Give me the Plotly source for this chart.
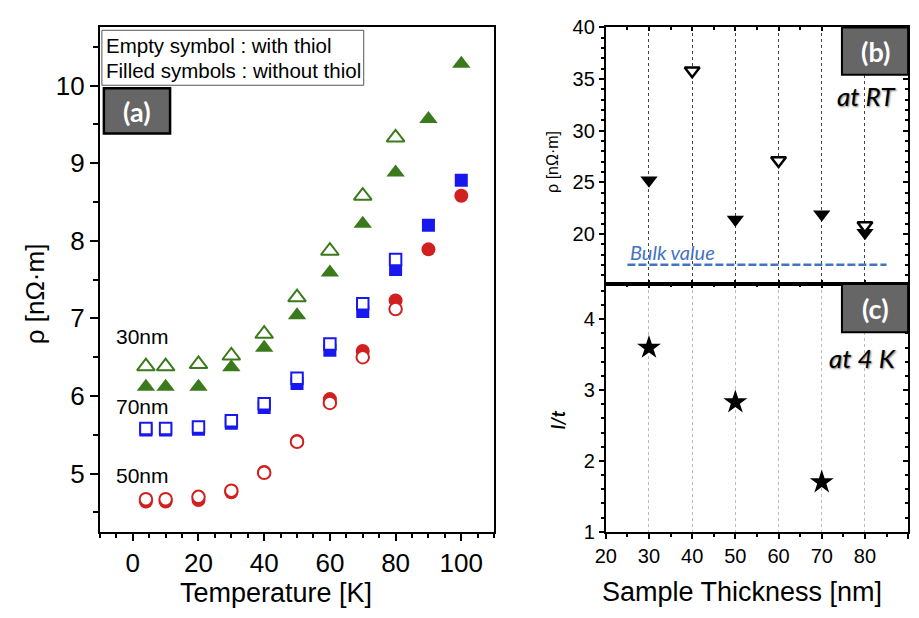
import plotly.graph_objects as go

# ---------------- data ----------------
# (a) resistivity vs temperature
temperature = [4, 10, 20, 30, 40, 50, 60, 70, 80, 90, 100]
temperature_thiol = [4, 10, 20, 30, 40, 50, 60, 70, 80]

rho_30nm_bare = [6.12, 6.12, 6.12, 6.37, 6.62, 7.04, 7.59, 8.22, 8.88, 9.57, 10.28]
rho_30nm_thiol = [6.38, 6.38, 6.41, 6.52, 6.80, 7.27, 7.87, 8.58, 9.33]
rho_70nm_bare = [5.56, 5.56, 5.57, 5.65, 5.85, 6.16, 6.59, 7.09, 7.63, 8.20, 8.78]
rho_70nm_thiol = [5.58, 5.58, 5.60, 5.68, 5.90, 6.23, 6.67, 7.19, 7.76]
rho_50nm_bare = [4.64, 4.64, 4.66, 4.76, 5.02, 5.42, 5.96, 6.58, 7.23, 7.89, 8.58]
rho_50nm_thiol = [4.67, 4.67, 4.70, 4.78, 5.01, 5.41, 5.91, 6.50, 7.12]

# (b) room-temperature resistivity vs thickness
thickness_bare = [30, 50, 70, 80]
rho_rt_bare = [25.2, 21.4, 21.9, 20.1]
thickness_thiol = [40, 60, 80]
rho_rt_thiol = [35.8, 27.1, 20.8]
bulk_rho = 17.0
bulk_span = [25, 85]

# (c) l/t at 4 K
thickness_4k = [30, 50, 70]
l_over_t = [3.60, 2.83, 1.70]

# ---------------- styling ----------------
W, H = 919, 618
GREEN = "#3B7A1C"
BLUE = "#1818EE"
RED = "#D21F1F"
SANS = "Liberation Sans, Arial, sans-serif"
LABEL_FONT = "Lato, Open Sans, sans-serif"


def px(x):
    return x / W


def py(y):
    return 1 - y / H


dom_a_x = [px(90), px(489)]
dom_a_y = [py(540), py(17)]
dom_bc_x = [px(602), px(908)]
dom_b_y = [py(283), py(17)]
dom_c_y = [py(540), py(283)]

fig = go.Figure()


def scatter(x, y, symbol, color, size, axes=("x", "y"), hollow=False, lw=2):
    if hollow:
        # hollow symbols are white inside so they mask the filled ones beneath
        marker = dict(symbol=symbol, size=size, color="white",
                      line=dict(color=color, width=lw))
    else:
        marker = dict(symbol=symbol, size=size, color=color, line=dict(width=0))
    fig.add_trace(go.Scatter(x=x, y=y, mode="markers", marker=marker,
                             xaxis=axes[0], yaxis=axes[1], showlegend=False,
                             hoverinfo="skip"))


# panel (a): filled (without thiol) first, hollow (with thiol) on top
scatter(temperature, rho_30nm_bare, "triangle-up", GREEN, 16)
scatter(temperature, rho_70nm_bare, "square", BLUE, 13)
scatter(temperature, rho_50nm_bare, "circle", RED, 14)
scatter(temperature_thiol, rho_30nm_thiol, "triangle-up", GREEN, 15.5, hollow=True)
scatter(temperature_thiol, rho_70nm_thiol, "square", BLUE, 11.5, hollow=True)
scatter(temperature_thiol, rho_50nm_thiol, "circle", RED, 12.5, hollow=True)

# panel (b)
fig.add_trace(go.Scatter(x=bulk_span, y=[bulk_rho, bulk_rho], mode="lines",
                         line=dict(color="#4472C4", width=2.5, dash="8px,3px"),
                         xaxis="x2", yaxis="y2", showlegend=False, hoverinfo="skip"))
scatter(thickness_bare, rho_rt_bare, "triangle-down", "black", 15, axes=("x2", "y2"))
scatter(thickness_thiol, rho_rt_thiol, "triangle-down", "black", 13,
        axes=("x2", "y2"), hollow=True, lw=2.5)

# panel (c)
scatter(thickness_4k, l_over_t, "star", "black", 18, axes=("x3", "y3"))

# empty traces carrying the mirrored inward-tick axes
for xa, ya in (("x4", "y4"), ("x5", "y5")):
    fig.add_trace(go.Scatter(x=[None], y=[None], xaxis=xa, yaxis=ya,
                             showlegend=False, hoverinfo="skip"))


def axis(**kw):
    base = dict(showgrid=False, zeroline=False, showline=True,
                linecolor="black", ticks="outside", tickcolor="black",
                tickfont=dict(family=SANS, color="black"))
    base.update(kw)
    return base


layout = dict(
    width=W, height=H, margin=dict(l=0, r=0, t=0, b=0),
    paper_bgcolor="white", plot_bgcolor="white", showlegend=False,
    xaxis=axis(domain=dom_a_x, anchor="y", range=[-10, 110],
               tick0=0, dtick=20, ticklen=7, tickwidth=2, linewidth=2,
               mirror=True, tickfont=dict(family=SANS, color="black", size=26),
               minor=dict(dtick=5, tick0=0, ticklen=4, tickwidth=2,
                          ticks="outside", tickcolor="black")),
    yaxis=axis(domain=dom_a_y, anchor="x", range=[4.25, 10.75],
               tick0=0, dtick=1, ticklen=8, tickwidth=2, linewidth=2,
               mirror=True, tickfont=dict(family=SANS, color="black", size=26),
               minor=dict(dtick=0.5, tick0=0, ticklen=5, tickwidth=2,
                          ticks="outside", tickcolor="black")),
    xaxis2=axis(domain=dom_bc_x, anchor="y2", range=[20, 90],
                tick0=20, dtick=10, ticks="inside", ticklen=4, tickwidth=2,
                linewidth=2, showticklabels=False,
                showgrid=True, gridcolor="#444", griddash="dot", gridwidth=1.3),
    yaxis2=axis(domain=dom_b_y, anchor="x2", range=[15.15, 40],
                tick0=0, dtick=5, ticklen=5, tickwidth=2, linewidth=2,
                tickfont=dict(family=SANS, color="black", size=20),
                minor=dict(dtick=1, ticklen=3, tickwidth=1.5,
                           ticks="outside", tickcolor="black")),
    xaxis3=axis(domain=dom_bc_x, anchor="y3", range=[20, 90],
                tick0=20, dtick=10, ticklen=5, tickwidth=2, linewidth=2,
                tickfont=dict(family=SANS, color="black", size=20),
                showgrid=True, gridcolor="#BBBBBB", griddash="dot", gridwidth=1.3,
                minor=dict(dtick=5, tick0=20, ticklen=3, tickwidth=2,
                           ticks="outside", tickcolor="black")),
    yaxis3=axis(domain=dom_c_y, anchor="x3", range=[1, 4.5],
                tick0=0, dtick=1, ticklen=5, tickwidth=2, linewidth=2,
                tickfont=dict(family=SANS, color="black", size=20),
                minor=dict(dtick=0.2, ticklen=3, tickwidth=1.5,
                           ticks="outside", tickcolor="black")),
)

# inward ticks on the top and right edges of panels (b) and (c)
for xa, ya, base_x, base_y, yr, ydt, ymin in (
        ("xaxis4", "yaxis4", "x2", "y2", [15.15, 40], 5, 1),
        ("xaxis5", "yaxis5", "x3", "y3", [1, 4.5], 1, 0.2)):
    layout[xa] = dict(overlaying=base_x, side="top", anchor=base_y,
                      range=[20, 90], tick0=20, dtick=10, ticks="inside",
                      ticklen=4, tickwidth=2, tickcolor="black",
                      showticklabels=False, showgrid=False, zeroline=False,
                      showline=True, linecolor="black", linewidth=2,
                      minor=dict(dtick=5, tick0=20, ticklen=3, tickwidth=2,
                                 ticks="inside", tickcolor="black"))
    layout[ya] = dict(overlaying=base_y, side="right", anchor=base_x,
                      range=yr, tick0=0, dtick=ydt, ticks="inside",
                      ticklen=5, tickwidth=2, tickcolor="black",
                      showticklabels=False, showgrid=False, zeroline=False,
                      showline=True, linecolor="black", linewidth=2,
                      minor=dict(dtick=ymin, ticklen=3, tickwidth=1.5,
                                 ticks="inside", tickcolor="black"))

fig.update_layout(**layout)

# ---------------- boxes ----------------
shapes = [
    # legend note box in (a)
    dict(type="rect", xref="paper", yref="paper",
         x0=px(92), x1=px(357), y0=py(77), y1=py(20),
         line=dict(color="#555", width=1), fillcolor="white"),
    # panel tags
    dict(type="rect", xref="paper", yref="paper",
         x0=px(94), x1=px(161), y0=py(127), y1=py(80),
         line=dict(color="black", width=2.5), fillcolor="#666666"),
    dict(type="rect", xref="paper", yref="paper",
         x0=px(841), x1=px(908), y0=py(66), y1=py(17),
         line=dict(color="black", width=2), fillcolor="#666666"),
    dict(type="rect", xref="paper", yref="paper",
         x0=px(841), x1=px(908), y0=py(333), y1=py(283),
         line=dict(color="black", width=2), fillcolor="#666666"),
]
fig.update_layout(shapes=shapes)


def note(text, x, y, size, xanchor="center", yanchor="middle", angle=0,
         family=SANS, color="black", shadow=None):
    font = dict(family=family, size=size, color=color)
    if shadow:
        font["shadow"] = shadow
    fig.add_annotation(text=text, x=px(x), y=py(y), xref="paper", yref="paper",
                       xanchor=xanchor, yanchor=yanchor, textangle=angle,
                       showarrow=False, font=font)


note("Empty symbol : with thiol", 94, 36, 20.5, xanchor="left")
note("Filled symbols : without thiol", 94, 62, 20.5, xanchor="left")
note("<b>(a)</b>", 127.5, 104, 27, family=LABEL_FONT, color="white")
note("<b>(b)</b>", 874.5, 42, 27, family=LABEL_FONT, color="white")
note("<b>(c)</b>", 874.5, 308, 27, family=LABEL_FONT, color="white")
note("<i>at RT</i>", 898, 88, 26, xanchor="right", family=LABEL_FONT,
     shadow="1px 1px 2px #777")
note("<i>at 4 K</i>", 898, 360, 26, xanchor="right", family=LABEL_FONT,
     shadow="1px 1px 2px #777")
note("<i>Bulk value</i>", 624, 250, 20, xanchor="left", family=LABEL_FONT,
     color="#4472C4")
note("30nm", 104, 338, 21, xanchor="left")
note("70nm", 104, 410, 21, xanchor="left")
note("50nm", 104, 482, 21, xanchor="left")

# axis titles
note("ρ [nΩ·m]", 24, 293, 26, angle=-90)
note("Temperature [K]", 268, 603, 27)
note("Sample Thickness [nm]", 740, 602, 27)
note("ρ [nΩ·m]", 548, 156, 16, angle=-90)
note("<b><i>l/t</i></b>", 554, 424, 18, angle=-90, family=LABEL_FONT)

fig.write_html("out.html")
